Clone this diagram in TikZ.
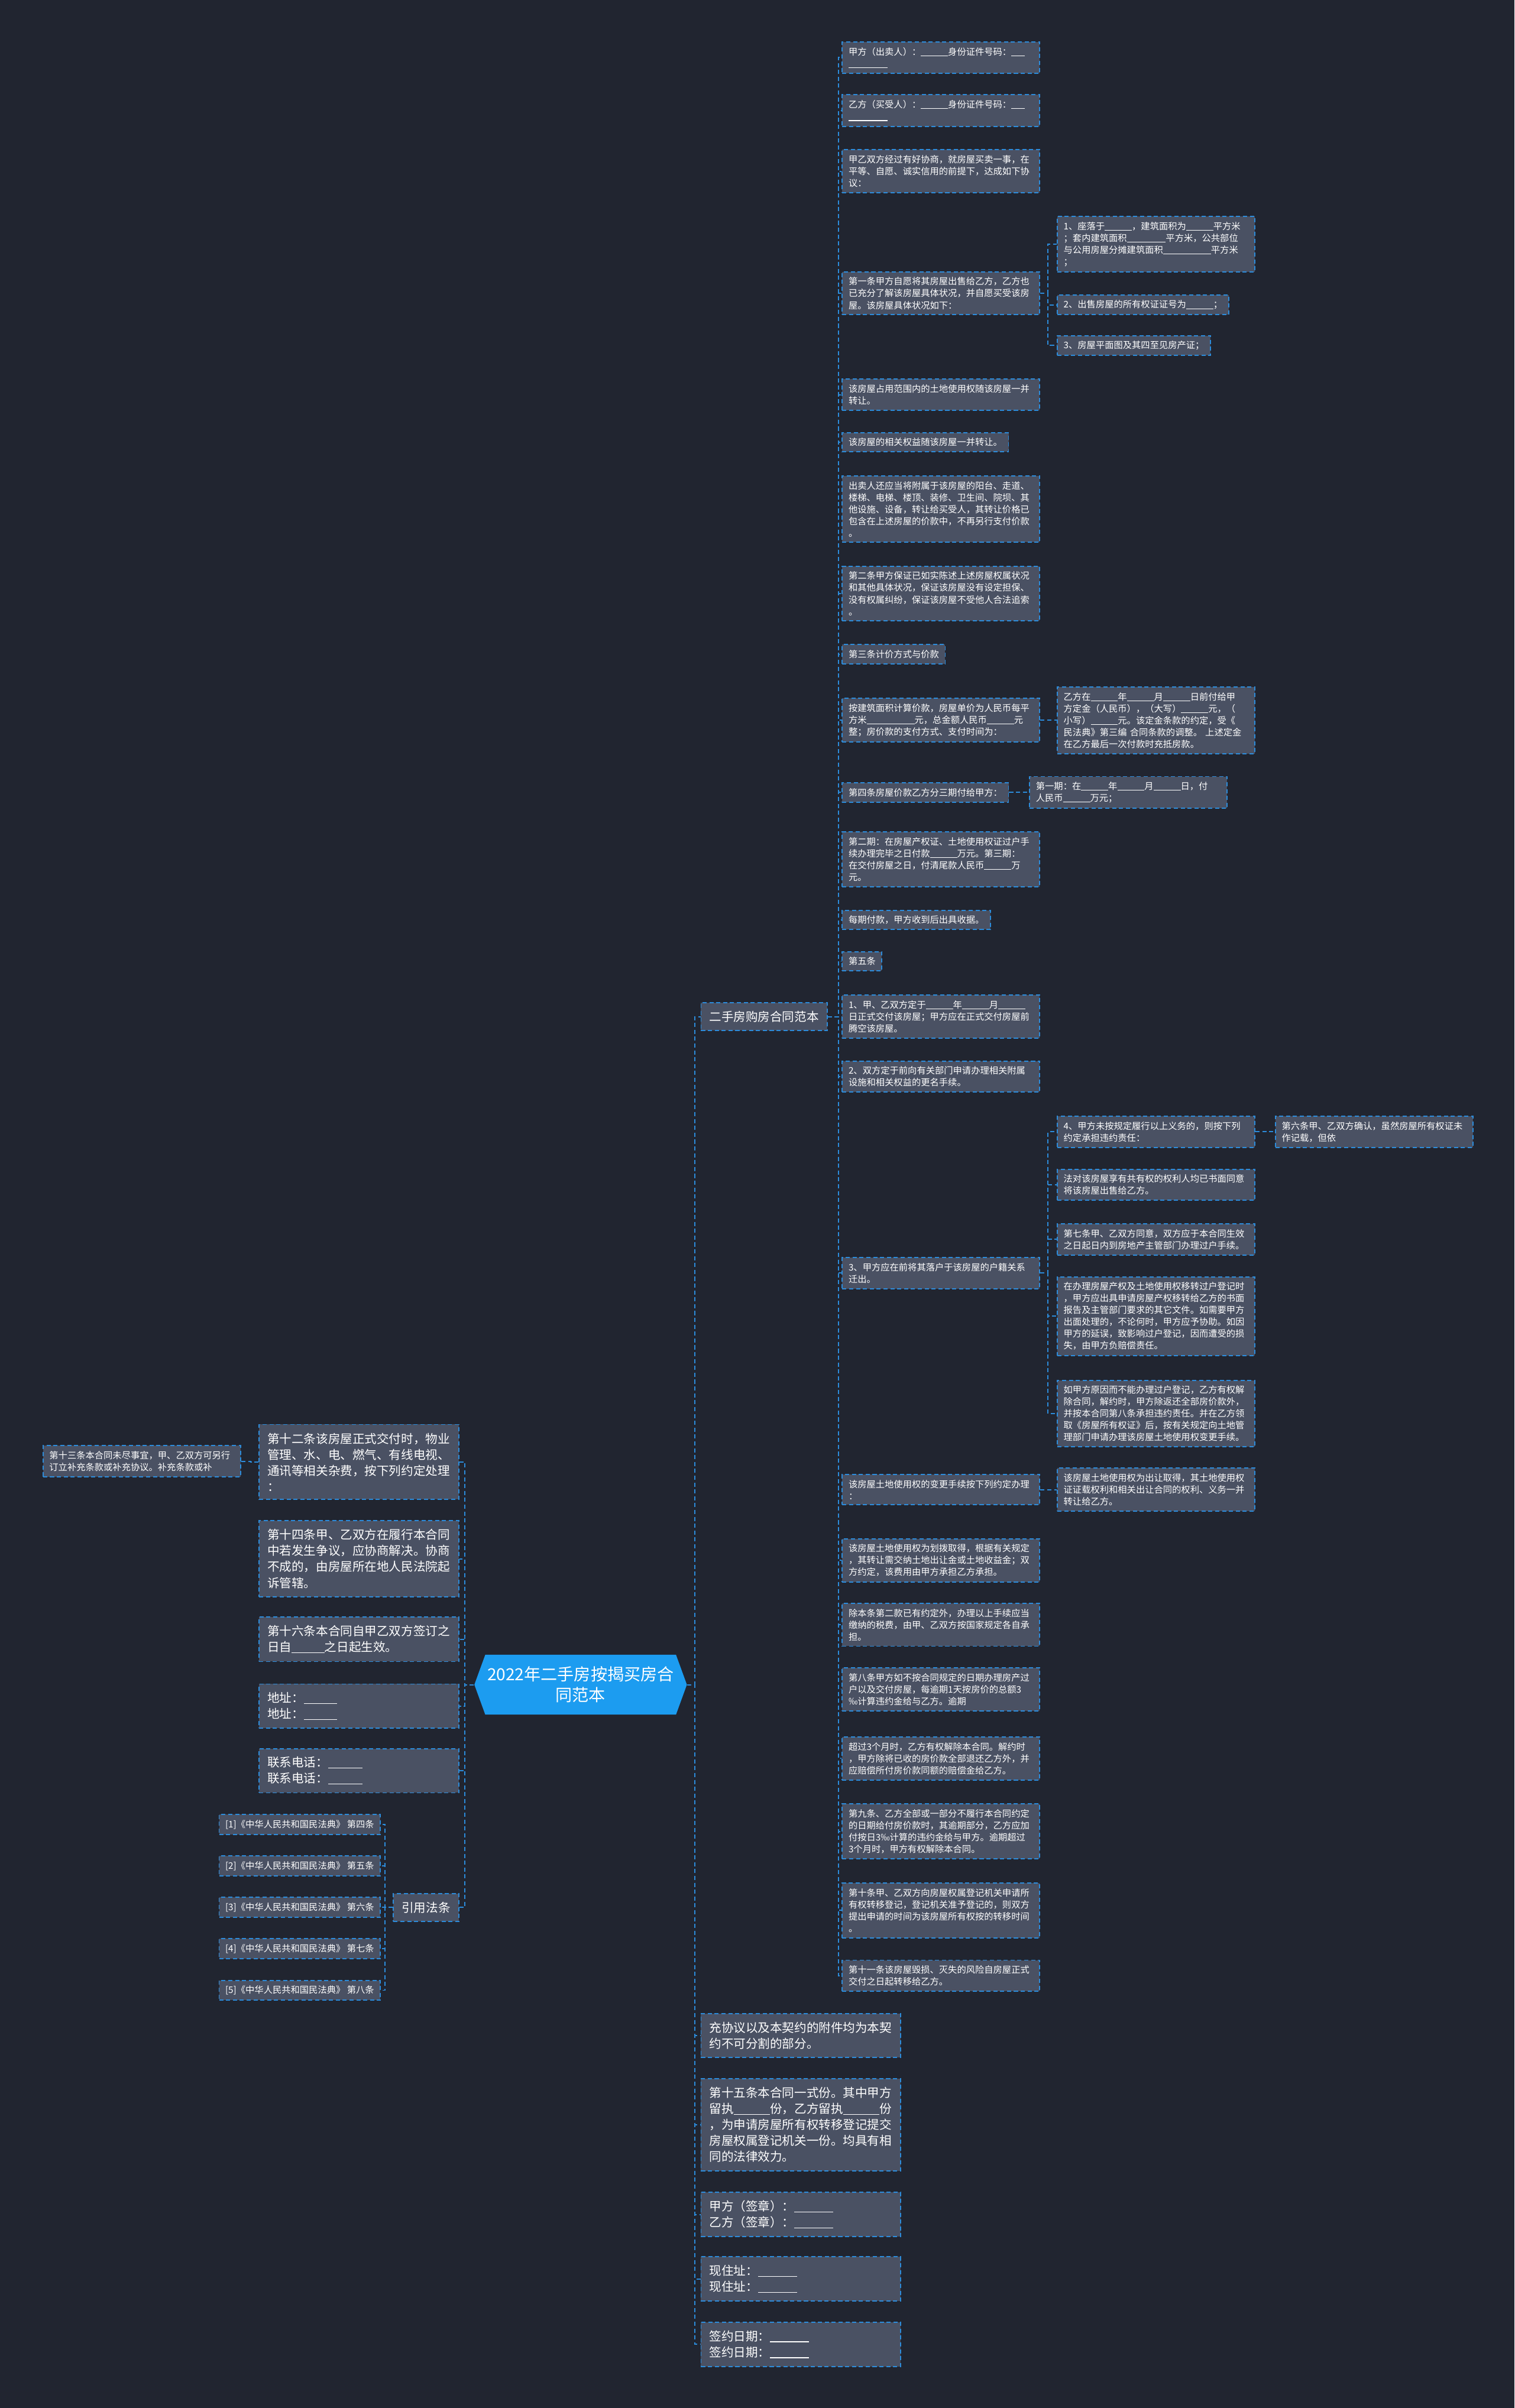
\documentclass[tikz,border=0pt]{standalone}
\usepackage{fontspec}
\setmainfont{Noto Sans CJK SC}
\usetikzlibrary{shapes.symbols}
\definecolor{bgcol}{HTML}{212530}
\definecolor{boxcol}{HTML}{4A5163}
\definecolor{linecol}{HTML}{2C8CDB}
\definecolor{rootcol}{HTML}{1C9CF0}
\newcommand{\blk}[1]{\rule[-0.12em]{#1em}{0.07em}}
\tikzset{
  box/.style={draw=linecol, fill=boxcol, text=white, line width=0.55pt,
    dash pattern=on 2pt off 1.3pt, align=left},
  leaf/.style={box, font=\fontsize{4.35}{5.7}\selectfont, inner xsep=3pt, inner ysep=2.6pt},
  leafw/.style={leaf, text width=89pt},
  topic/.style={box, font=\fontsize{5.85}{7.7}\selectfont, inner xsep=4pt, inner ysep=4pt},
  topicw/.style={topic, text width=88pt},
  root/.style={shape=signal, signal to=east and west, signal pointer angle=140,
    fill=rootcol, text=white, font=\fontsize{8}{10}\selectfont, align=center,
    minimum height=28.8pt, inner xsep=1pt},
  link/.style={draw=linecol, line width=0.55pt, dash pattern=on 2pt off 1.3pt},
}
\begin{document}
\begin{tikzpicture}[x=0.025963cm, y=-0.025963cm]
\useasboundingbox (0,0) rectangle (986,1568);
\fill[bgcol] (0,0) rectangle (986,1568);
% root and first level
\node[root] (root) at (378,1097) {2022年二手房按揭买房合\\同范本};
\node[topic, anchor=west] (br) at (456,662) {二手房购房合同范本};
\node[topicw, anchor=west] (b1) at (456,1325.5) {充协议以及本契约的附件均为本契\\约不可分割的部分。};
\node[topicw, anchor=west] (b2) at (456,1383.5) {第十五条本合同一式份。其中甲方\\留执\blk{3}份，乙方留执\blk{3}份\\，为申请房屋所有权转移登记提交\\房屋权属登记机关一份。均具有相\\同的法律效力。};
\node[topicw, anchor=west] (b3) at (456,1442) {甲方（签章）：\blk{3.2}\\乙方（签章）：\blk{3.2}};
\node[topicw, anchor=west] (b4) at (456,1484) {现住址：\blk{3.2}\\现住址：\blk{3.2}};
\node[topicw, anchor=west] (b5) at (456,1526.5) {签约日期：\blk{3.2}\\签约日期：\blk{3.2}};
\node[topicw, anchor=east] (l1) at (299,952) {第十二条该房屋正式交付时，物业\\管理、水、电、燃气、有线电视、\\通讯等相关杂费，按下列约定处理\\：};
\node[topicw, anchor=east] (l2) at (299,1015) {第十四条甲、乙双方在履行本合同\\中若发生争议，应协商解决。协商\\不成的，由房屋所在地人民法院起\\诉管辖。};
\node[topicw, anchor=east] (l3) at (299,1067.5) {第十六条本合同自甲乙双方签订之\\日自\blk{2.7}之日起生效。};
\node[topicw, anchor=east] (l4) at (299,1111) {地址：\blk{2.7}\\地址：\blk{2.7}};
\node[topicw, anchor=east] (l5) at (299,1153) {联系电话：\blk{2.8}\\联系电话：\blk{2.8}};
\node[topic, anchor=east] (law) at (299,1242) {引用法条};
\node[leafw, anchor=east] (l1a) at (157,951.5) {第十三条本合同未尽事宜，甲、乙双方可另行\\订立补充条款或补充协议。补充条款或补};
\node[leaf, anchor=east] (law1) at (248,1188) {[1]《中华人民共和国民法典》 第四条};
\node[leaf, anchor=east] (law2) at (248,1215) {[2]《中华人民共和国民法典》 第五条};
\node[leaf, anchor=east] (law3) at (248,1242) {[3]《中华人民共和国民法典》 第六条};
\node[leaf, anchor=east] (law4) at (248,1269) {[4]《中华人民共和国民法典》 第七条};
\node[leaf, anchor=east] (law5) at (248,1296) {[5]《中华人民共和国民法典》 第八条};
% contract clauses
\node[leafw, anchor=west] (n1) at (548,37.5) {甲方（出卖人）：\blk{3}身份证件号码：\blk{1.5}\\\blk{4.3}};
\node[leafw, anchor=west] (n2) at (548,72) {乙方（买受人）：\blk{3}身份证件号码：\blk{1.5}\\\blk{4.3}};
\node[leafw, anchor=west] (n3) at (548,111.5) {甲乙双方经过有好协商，就房屋买卖一事，在\\平等、自愿、诚实信用的前提下，达成如下协\\议：};
\node[leafw, anchor=west] (n4) at (548,191) {第一条甲方自愿将其房屋出售给乙方，乙方也\\已充分了解该房屋具体状况，并自愿买受该房\\屋。该房屋具体状况如下：};
\node[leafw, anchor=west] (n4a) at (688,159) {1、座落于\blk{3}，建筑面积为\blk{3}平方米\\；套内建筑面积\blk{4.3}平方米，公共部位\\与公用房屋分摊建筑面积\blk{5.3}平方米\\；};
\node[leaf, anchor=west] (n4b) at (688,198.5) {2、出售房屋的所有权证证号为\blk{3}；};
\node[leaf, anchor=west] (n4c) at (688,225) {3、房屋平面图及其四至见房产证；};
\node[leafw, anchor=west] (n5) at (548,257) {该房屋占用范围内的土地使用权随该房屋一并\\转让。};
\node[leaf, anchor=west] (n6) at (548,288) {该房屋的相关权益随该房屋一并转让。};
\node[leafw, anchor=west] (n7) at (548,331.5) {出卖人还应当将附属于该房屋的阳台、走道、\\楼梯、电梯、楼顶、装修、卫生间、院坝、其\\他设施、设备，转让给买受人，其转让价格已\\包含在上述房屋的价款中，不再另行支付价款\\。};
\node[leafw, anchor=west] (n8) at (548,386.5) {第二条甲方保证已如实陈述上述房屋权属状况\\和其他具体状况，保证该房屋没有设定担保、\\没有权属纠纷，保证该房屋不受他人合法追索\\。};
\node[leaf, anchor=west] (n9) at (548,426) {第三条计价方式与价款};
\node[leafw, anchor=west] (n10) at (548,469) {按建筑面积计算价款，房屋单价为人民币每平\\方米\blk{5.3}元，总金额人民币\blk{3}元\\整；房价款的支付方式、支付时间为：};
\node[leafw, anchor=west] (n10a) at (688,469) {乙方在\blk{3}年\blk{3}月\blk{3}日前付给甲\\方定金（人民币），（大写）\blk{3}元，（\\小写）\blk{3}元。该定金条款的约定，受《\\民法典》第三编 合同条款的调整。 上述定金\\在乙方最后一次付款时充抵房款。};
\node[leaf, anchor=west] (n11) at (548,516) {第四条房屋价款乙方分三期付给甲方：};
\node[leafw, anchor=west] (n11a) at (670,516) {第一期：在\blk{3}年\blk{3}月\blk{3}日，付\\人民币\blk{3}万元；};
\node[leafw, anchor=west] (n12) at (548,559.5) {第二期：在房屋产权证、土地使用权证过户手\\续办理完毕之日付款\blk{3}万元。第三期：\\在交付房屋之日，付清尾款人民币\blk{3}万\\元。};
\node[leaf, anchor=west] (n13) at (548,599) {每期付款，甲方收到后出具收据。};
\node[leaf, anchor=west] (n14) at (548,626) {第五条};
\node[leafw, anchor=west] (n15) at (548,662) {1、甲、乙双方定于\blk{3}年\blk{3}月\blk{3}\\日正式交付该房屋；甲方应在正式交付房屋前\\腾空该房屋。};
\node[leafw, anchor=west] (n16) at (548,701) {2、双方定于前向有关部门申请办理相关附属\\设施和相关权益的更名手续。};
\node[leafw, anchor=west] (n17) at (548,829) {3、甲方应在前将其落户于该房屋的户籍关系\\迁出。};
\node[leafw, anchor=west] (n17a) at (688,737) {4、甲方未按规定履行以上义务的，则按下列\\约定承担违约责任：};
\node[leafw, anchor=west] (n17f) at (830,737) {第六条甲、乙双方确认，虽然房屋所有权证未\\作记载，但依};
\node[leafw, anchor=west] (n17b) at (688,771.5) {法对该房屋享有共有权的权利人均已书面同意\\将该房屋出售给乙方。};
\node[leafw, anchor=west] (n17c) at (688,807) {第七条甲、乙双方同意，双方应于本合同生效\\之日起日内到房地产主管部门办理过户手续。};
\node[leafw, anchor=west] (n17d) at (688,857) {在办理房屋产权及土地使用权移转过户登记时\\，甲方应出具申请房屋产权移转给乙方的书面\\报告及主管部门要求的其它文件。如需要甲方\\出面处理的，不论何时，甲方应予协助。如因\\甲方的延误，致影响过户登记，因而遭受的损\\失，由甲方负赔偿责任。};
\node[leafw, anchor=west] (n17e) at (688,920.5) {如甲方原因而不能办理过户登记，乙方有权解\\除合同，解约时，甲方除返还全部房价款外，\\并按本合同第八条承担违约责任。并在乙方领\\取《房屋所有权证》后，按有关规定向土地管\\理部门申请办理该房屋土地使用权变更手续。};
\node[leafw, anchor=west] (n18) at (548,970) {该房屋土地使用权的变更手续按下列约定办理\\：};
\node[leafw, anchor=west] (n18a) at (688,970) {该房屋土地使用权为出让取得，其土地使用权\\证证载权利和相关出让合同的权利、义务一并\\转让给乙方。};
\node[leafw, anchor=west] (n19) at (548,1016) {该房屋土地使用权为划拨取得，根据有关规定\\，其转让需交纳土地出让金或土地收益金；双\\方约定，该费用由甲方承担乙方承担。};
\node[leafw, anchor=west] (n20) at (548,1058) {除本条第二款已有约定外，办理以上手续应当\\缴纳的税费，由甲、乙双方按国家规定各自承\\担。};
\node[leafw, anchor=west] (n21) at (548,1100) {第八条甲方如不按合同规定的日期办理房产过\\户以及交付房屋，每逾期1天按房价的总额3\\‰计算违约金给与乙方。逾期};
\node[leafw, anchor=west] (n22) at (548,1145) {超过3个月时，乙方有权解除本合同。解约时\\，甲方除将已收的房价款全部退还乙方外，并\\应赔偿所付房价款同额的赔偿金给乙方。};
\node[leafw, anchor=west] (n23) at (548,1192.5) {第九条、乙方全部或一部分不履行本合同约定\\的日期给付房价款时，其逾期部分，乙方应加\\付按日3‰计算的违约金给与甲方。逾期超过\\3个月时，甲方有权解除本合同。};
\node[leafw, anchor=west] (n24) at (548,1244) {第十条甲、乙双方向房屋权属登记机关申请所\\有权转移登记，登记机关准予登记的，则双方\\提出申请的时间为该房屋所有权按的转移时间\\。};
\node[leafw, anchor=west] (n25) at (548,1286.5) {第十一条该房屋毁损、灭失的风险自房屋正式\\交付之日起转移给乙方。};
% connectors
\foreach \c in {br,b1,b2,b3,b4,b5}
  \draw[link] (root.east) -- ++(5,0) |- (\c.west);
\foreach \c in {l1,l2,l3,l4,l5,law}
  \draw[link] (root.west) -- ++(-6,0) |- (\c.east);
\draw[link] (l1.west) -- ++(-5,0) |- (l1a.east);
\foreach \c in {law1,law2,law3,law4,law5}
  \draw[link] (law.west) -- ++(-5,0) |- (\c.east);
\foreach \c in {n1,n2,n3,n4,n5,n6,n7,n8,n9,n10,n11,n12,n13,n14,n15,n16,n17,n18,n19,n20,n21,n22,n23,n24,n25}
  \draw[link] (br.east) -- ++(7,0) |- (\c.west);
\foreach \c in {n4a,n4b,n4c}
  \draw[link] (n4.east) -- ++(5,0) |- (\c.west);
\draw[link] (n10.east) -- ++(5,0) |- (n10a.west);
\draw[link] (n11.east) -- ++(5,0) |- (n11a.west);
\foreach \c in {n17a,n17b,n17c,n17d,n17e}
  \draw[link] (n17.east) -- ++(5,0) |- (\c.west);
\draw[link] (n17a.east) -- ++(6,0) |- (n17f.west);
\draw[link] (n18.east) -- ++(5,0) |- (n18a.west);
\end{tikzpicture}
\end{document}
